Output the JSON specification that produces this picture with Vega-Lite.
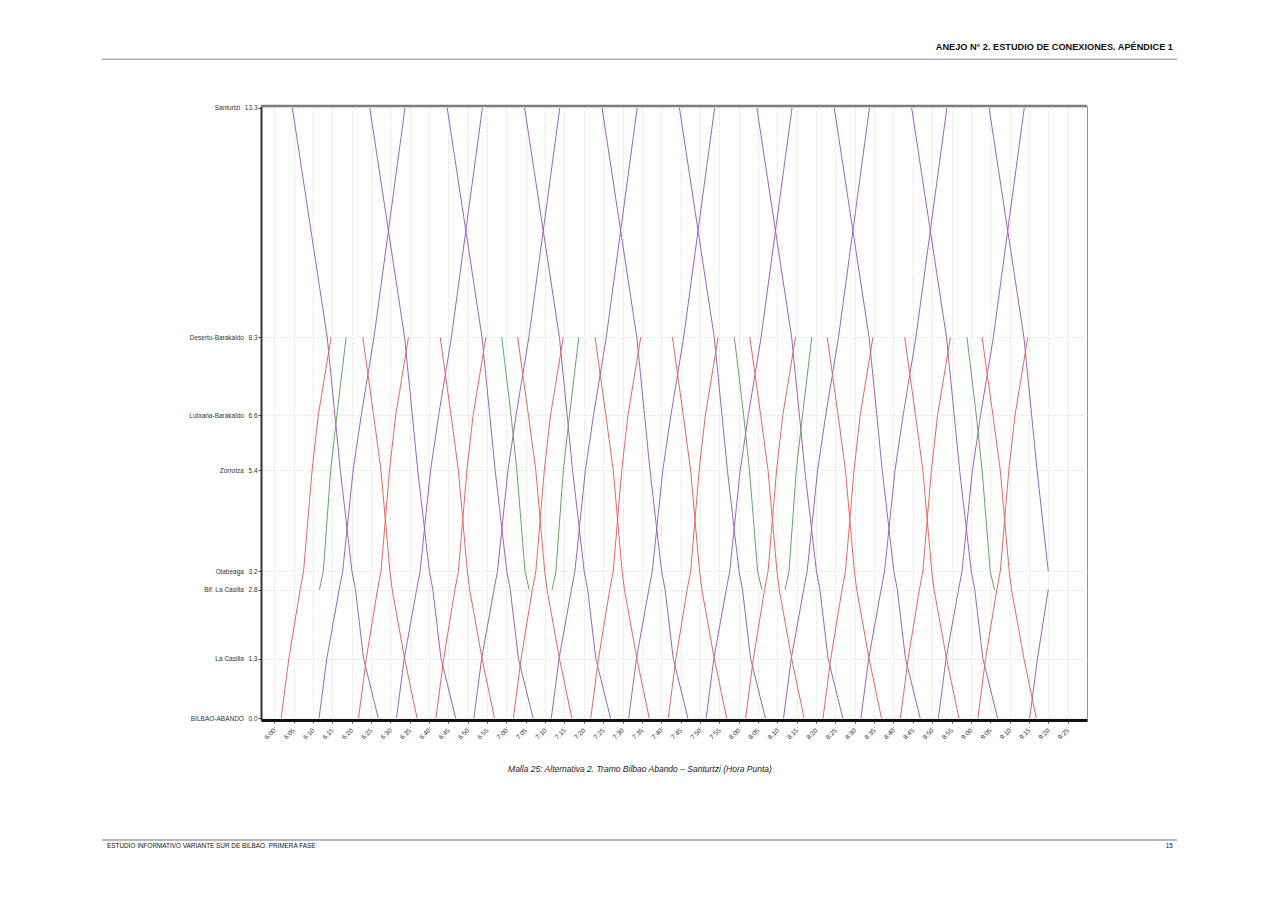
{
  "$schema": "https://vega.github.io/schema/vega-lite/v6.json",
  "autosize": {"type": "none"},
  "padding": {"left": 261, "top": 106, "right": 194, "bottom": 186},
  "width": 826,
  "height": 614,
  "background": "white",
  "config": {"view": {"stroke": "#8f8f8f", "strokeWidth": 1}, "font": "Liberation Sans", "axis": {"labelOverlap": false}},
  "datasets": {
    "trains": [
      {"id":"u0","s":"P","t":11.6,"km":0},{"id":"u0","s":"P","t":13.6,"km":1.3},{"id":"u0","s":"P","t":16.8,"km":2.8},{"id":"u0","s":"P","t":17.7,"km":3.2},{"id":"u0","s":"P","t":20.4,"km":5.4},{"id":"u0","s":"P","t":22.5,"km":6.6},{"id":"u0","s":"P","t":25.8,"km":8.3},{"id":"u0","s":"P","t":33.8,"km":13.3},
      {"id":"u1","s":"P","t":31.6,"km":0},{"id":"u1","s":"P","t":33.6,"km":1.3},{"id":"u1","s":"P","t":36.8,"km":2.8},{"id":"u1","s":"P","t":37.7,"km":3.2},{"id":"u1","s":"P","t":40.4,"km":5.4},{"id":"u1","s":"P","t":42.5,"km":6.6},{"id":"u1","s":"P","t":45.8,"km":8.3},{"id":"u1","s":"P","t":53.8,"km":13.3},
      {"id":"u2","s":"P","t":51.6,"km":0},{"id":"u2","s":"P","t":53.6,"km":1.3},{"id":"u2","s":"P","t":56.8,"km":2.8},{"id":"u2","s":"P","t":57.7,"km":3.2},{"id":"u2","s":"P","t":60.4,"km":5.4},{"id":"u2","s":"P","t":62.5,"km":6.6},{"id":"u2","s":"P","t":65.8,"km":8.3},{"id":"u2","s":"P","t":73.8,"km":13.3},
      {"id":"u3","s":"P","t":71.6,"km":0},{"id":"u3","s":"P","t":73.6,"km":1.3},{"id":"u3","s":"P","t":76.8,"km":2.8},{"id":"u3","s":"P","t":77.7,"km":3.2},{"id":"u3","s":"P","t":80.4,"km":5.4},{"id":"u3","s":"P","t":82.5,"km":6.6},{"id":"u3","s":"P","t":85.8,"km":8.3},{"id":"u3","s":"P","t":93.8,"km":13.3},
      {"id":"u4","s":"P","t":91.6,"km":0},{"id":"u4","s":"P","t":93.6,"km":1.3},{"id":"u4","s":"P","t":96.8,"km":2.8},{"id":"u4","s":"P","t":97.7,"km":3.2},{"id":"u4","s":"P","t":100.4,"km":5.4},{"id":"u4","s":"P","t":102.5,"km":6.6},{"id":"u4","s":"P","t":105.8,"km":8.3},{"id":"u4","s":"P","t":113.8,"km":13.3},
      {"id":"u5","s":"P","t":111.6,"km":0},{"id":"u5","s":"P","t":113.6,"km":1.3},{"id":"u5","s":"P","t":116.8,"km":2.8},{"id":"u5","s":"P","t":117.7,"km":3.2},{"id":"u5","s":"P","t":120.4,"km":5.4},{"id":"u5","s":"P","t":122.5,"km":6.6},{"id":"u5","s":"P","t":125.8,"km":8.3},{"id":"u5","s":"P","t":133.8,"km":13.3},
      {"id":"u6","s":"P","t":131.6,"km":0},{"id":"u6","s":"P","t":133.6,"km":1.3},{"id":"u6","s":"P","t":136.8,"km":2.8},{"id":"u6","s":"P","t":137.7,"km":3.2},{"id":"u6","s":"P","t":140.4,"km":5.4},{"id":"u6","s":"P","t":142.5,"km":6.6},{"id":"u6","s":"P","t":145.8,"km":8.3},{"id":"u6","s":"P","t":153.8,"km":13.3},
      {"id":"u7","s":"P","t":151.6,"km":0},{"id":"u7","s":"P","t":153.6,"km":1.3},{"id":"u7","s":"P","t":156.8,"km":2.8},{"id":"u7","s":"P","t":157.7,"km":3.2},{"id":"u7","s":"P","t":160.4,"km":5.4},{"id":"u7","s":"P","t":162.5,"km":6.6},{"id":"u7","s":"P","t":165.8,"km":8.3},{"id":"u7","s":"P","t":173.8,"km":13.3},
      {"id":"u8","s":"P","t":171.6,"km":0},{"id":"u8","s":"P","t":173.6,"km":1.3},{"id":"u8","s":"P","t":176.8,"km":2.8},{"id":"u8","s":"P","t":177.7,"km":3.2},{"id":"u8","s":"P","t":180.4,"km":5.4},{"id":"u8","s":"P","t":182.5,"km":6.6},{"id":"u8","s":"P","t":185.8,"km":8.3},{"id":"u8","s":"P","t":193.8,"km":13.3},
      {"id":"u9","s":"P","t":195.2,"km":0},{"id":"u9","s":"P","t":197.2,"km":1.3},{"id":"u9","s":"P","t":200.0,"km":2.8},
      {"id":"d0","s":"P","t":4.7,"km":13.3},{"id":"d0","s":"P","t":13.7,"km":8.3},{"id":"d0","s":"P","t":15.7,"km":6.6},{"id":"d0","s":"P","t":17.1,"km":5.4},{"id":"d0","s":"P","t":20.1,"km":3.2},{"id":"d0","s":"P","t":21.0,"km":2.8},{"id":"d0","s":"P","t":23.1,"km":1.3},{"id":"d0","s":"P","t":26.9,"km":0},
      {"id":"d1","s":"P","t":24.7,"km":13.3},{"id":"d1","s":"P","t":33.7,"km":8.3},{"id":"d1","s":"P","t":35.7,"km":6.6},{"id":"d1","s":"P","t":37.1,"km":5.4},{"id":"d1","s":"P","t":40.1,"km":3.2},{"id":"d1","s":"P","t":41.0,"km":2.8},{"id":"d1","s":"P","t":43.1,"km":1.3},{"id":"d1","s":"P","t":46.9,"km":0},
      {"id":"d2","s":"P","t":44.7,"km":13.3},{"id":"d2","s":"P","t":53.7,"km":8.3},{"id":"d2","s":"P","t":55.7,"km":6.6},{"id":"d2","s":"P","t":57.1,"km":5.4},{"id":"d2","s":"P","t":60.1,"km":3.2},{"id":"d2","s":"P","t":61.0,"km":2.8},{"id":"d2","s":"P","t":63.1,"km":1.3},{"id":"d2","s":"P","t":66.9,"km":0},
      {"id":"d3","s":"P","t":64.7,"km":13.3},{"id":"d3","s":"P","t":73.7,"km":8.3},{"id":"d3","s":"P","t":75.7,"km":6.6},{"id":"d3","s":"P","t":77.1,"km":5.4},{"id":"d3","s":"P","t":80.1,"km":3.2},{"id":"d3","s":"P","t":81.0,"km":2.8},{"id":"d3","s":"P","t":83.1,"km":1.3},{"id":"d3","s":"P","t":86.9,"km":0},
      {"id":"d4","s":"P","t":84.7,"km":13.3},{"id":"d4","s":"P","t":93.7,"km":8.3},{"id":"d4","s":"P","t":95.7,"km":6.6},{"id":"d4","s":"P","t":97.1,"km":5.4},{"id":"d4","s":"P","t":100.1,"km":3.2},{"id":"d4","s":"P","t":101.0,"km":2.8},{"id":"d4","s":"P","t":103.1,"km":1.3},{"id":"d4","s":"P","t":106.9,"km":0},
      {"id":"d5","s":"P","t":104.7,"km":13.3},{"id":"d5","s":"P","t":113.7,"km":8.3},{"id":"d5","s":"P","t":115.7,"km":6.6},{"id":"d5","s":"P","t":117.1,"km":5.4},{"id":"d5","s":"P","t":120.1,"km":3.2},{"id":"d5","s":"P","t":121.0,"km":2.8},{"id":"d5","s":"P","t":123.1,"km":1.3},{"id":"d5","s":"P","t":126.9,"km":0},
      {"id":"d6","s":"P","t":124.7,"km":13.3},{"id":"d6","s":"P","t":133.7,"km":8.3},{"id":"d6","s":"P","t":135.7,"km":6.6},{"id":"d6","s":"P","t":137.1,"km":5.4},{"id":"d6","s":"P","t":140.1,"km":3.2},{"id":"d6","s":"P","t":141.0,"km":2.8},{"id":"d6","s":"P","t":143.1,"km":1.3},{"id":"d6","s":"P","t":146.9,"km":0},
      {"id":"d7","s":"P","t":144.7,"km":13.3},{"id":"d7","s":"P","t":153.7,"km":8.3},{"id":"d7","s":"P","t":155.7,"km":6.6},{"id":"d7","s":"P","t":157.1,"km":5.4},{"id":"d7","s":"P","t":160.1,"km":3.2},{"id":"d7","s":"P","t":161.0,"km":2.8},{"id":"d7","s":"P","t":163.1,"km":1.3},{"id":"d7","s":"P","t":166.9,"km":0},
      {"id":"d8","s":"P","t":164.7,"km":13.3},{"id":"d8","s":"P","t":173.7,"km":8.3},{"id":"d8","s":"P","t":175.7,"km":6.6},{"id":"d8","s":"P","t":177.1,"km":5.4},{"id":"d8","s":"P","t":180.1,"km":3.2},{"id":"d8","s":"P","t":181.0,"km":2.8},{"id":"d8","s":"P","t":183.1,"km":1.3},{"id":"d8","s":"P","t":186.9,"km":0},
      {"id":"d9","s":"P","t":184.7,"km":13.3},{"id":"d9","s":"P","t":193.7,"km":8.3},{"id":"d9","s":"P","t":195.7,"km":6.6},{"id":"d9","s":"P","t":197.1,"km":5.4},{"id":"d9","s":"P","t":200.0,"km":3.2},
      {"id":"r0","s":"R","t":1.8,"km":0},{"id":"r0","s":"R","t":3.8,"km":1.3},{"id":"r0","s":"R","t":6.7,"km":2.8},{"id":"r0","s":"R","t":7.6,"km":3.2},{"id":"r0","s":"R","t":9.8,"km":5.4},{"id":"r0","s":"R","t":11.4,"km":6.6},{"id":"r0","s":"R","t":14.7,"km":8.3},
      {"id":"r1","s":"R","t":21.8,"km":0},{"id":"r1","s":"R","t":23.8,"km":1.3},{"id":"r1","s":"R","t":26.7,"km":2.8},{"id":"r1","s":"R","t":27.6,"km":3.2},{"id":"r1","s":"R","t":29.8,"km":5.4},{"id":"r1","s":"R","t":31.4,"km":6.6},{"id":"r1","s":"R","t":34.7,"km":8.3},
      {"id":"r2","s":"R","t":41.8,"km":0},{"id":"r2","s":"R","t":43.8,"km":1.3},{"id":"r2","s":"R","t":46.7,"km":2.8},{"id":"r2","s":"R","t":47.6,"km":3.2},{"id":"r2","s":"R","t":49.8,"km":5.4},{"id":"r2","s":"R","t":51.4,"km":6.6},{"id":"r2","s":"R","t":54.7,"km":8.3},
      {"id":"r3","s":"R","t":61.8,"km":0},{"id":"r3","s":"R","t":63.8,"km":1.3},{"id":"r3","s":"R","t":66.7,"km":2.8},{"id":"r3","s":"R","t":67.6,"km":3.2},{"id":"r3","s":"R","t":69.8,"km":5.4},{"id":"r3","s":"R","t":71.4,"km":6.6},{"id":"r3","s":"R","t":74.7,"km":8.3},
      {"id":"r4","s":"R","t":81.8,"km":0},{"id":"r4","s":"R","t":83.8,"km":1.3},{"id":"r4","s":"R","t":86.7,"km":2.8},{"id":"r4","s":"R","t":87.6,"km":3.2},{"id":"r4","s":"R","t":89.8,"km":5.4},{"id":"r4","s":"R","t":91.4,"km":6.6},{"id":"r4","s":"R","t":94.7,"km":8.3},
      {"id":"r5","s":"R","t":101.8,"km":0},{"id":"r5","s":"R","t":103.8,"km":1.3},{"id":"r5","s":"R","t":106.7,"km":2.8},{"id":"r5","s":"R","t":107.6,"km":3.2},{"id":"r5","s":"R","t":109.8,"km":5.4},{"id":"r5","s":"R","t":111.4,"km":6.6},{"id":"r5","s":"R","t":114.7,"km":8.3},
      {"id":"r6","s":"R","t":121.8,"km":0},{"id":"r6","s":"R","t":123.8,"km":1.3},{"id":"r6","s":"R","t":126.7,"km":2.8},{"id":"r6","s":"R","t":127.6,"km":3.2},{"id":"r6","s":"R","t":129.8,"km":5.4},{"id":"r6","s":"R","t":131.4,"km":6.6},{"id":"r6","s":"R","t":134.7,"km":8.3},
      {"id":"r7","s":"R","t":141.8,"km":0},{"id":"r7","s":"R","t":143.8,"km":1.3},{"id":"r7","s":"R","t":146.7,"km":2.8},{"id":"r7","s":"R","t":147.6,"km":3.2},{"id":"r7","s":"R","t":149.8,"km":5.4},{"id":"r7","s":"R","t":151.4,"km":6.6},{"id":"r7","s":"R","t":154.7,"km":8.3},
      {"id":"r8","s":"R","t":161.8,"km":0},{"id":"r8","s":"R","t":163.8,"km":1.3},{"id":"r8","s":"R","t":166.7,"km":2.8},{"id":"r8","s":"R","t":167.6,"km":3.2},{"id":"r8","s":"R","t":169.8,"km":5.4},{"id":"r8","s":"R","t":171.4,"km":6.6},{"id":"r8","s":"R","t":174.7,"km":8.3},
      {"id":"r9","s":"R","t":181.8,"km":0},{"id":"r9","s":"R","t":183.8,"km":1.3},{"id":"r9","s":"R","t":186.7,"km":2.8},{"id":"r9","s":"R","t":187.6,"km":3.2},{"id":"r9","s":"R","t":189.8,"km":5.4},{"id":"r9","s":"R","t":191.4,"km":6.6},{"id":"r9","s":"R","t":194.7,"km":8.3},
      {"id":"q0","s":"R","t":22.9,"km":8.3},{"id":"q0","s":"R","t":25.7,"km":6.6},{"id":"q0","s":"R","t":27.6,"km":5.4},{"id":"q0","s":"R","t":29.9,"km":3.2},{"id":"q0","s":"R","t":30.5,"km":2.8},{"id":"q0","s":"R","t":33.7,"km":1.3},{"id":"q0","s":"R","t":36.9,"km":0},
      {"id":"q1","s":"R","t":42.9,"km":8.3},{"id":"q1","s":"R","t":45.7,"km":6.6},{"id":"q1","s":"R","t":47.6,"km":5.4},{"id":"q1","s":"R","t":49.9,"km":3.2},{"id":"q1","s":"R","t":50.5,"km":2.8},{"id":"q1","s":"R","t":53.7,"km":1.3},{"id":"q1","s":"R","t":56.9,"km":0},
      {"id":"q2","s":"R","t":62.9,"km":8.3},{"id":"q2","s":"R","t":65.7,"km":6.6},{"id":"q2","s":"R","t":67.6,"km":5.4},{"id":"q2","s":"R","t":69.9,"km":3.2},{"id":"q2","s":"R","t":70.5,"km":2.8},{"id":"q2","s":"R","t":73.7,"km":1.3},{"id":"q2","s":"R","t":76.9,"km":0},
      {"id":"q3","s":"R","t":82.9,"km":8.3},{"id":"q3","s":"R","t":85.7,"km":6.6},{"id":"q3","s":"R","t":87.6,"km":5.4},{"id":"q3","s":"R","t":89.9,"km":3.2},{"id":"q3","s":"R","t":90.5,"km":2.8},{"id":"q3","s":"R","t":93.7,"km":1.3},{"id":"q3","s":"R","t":96.9,"km":0},
      {"id":"q4","s":"R","t":102.9,"km":8.3},{"id":"q4","s":"R","t":105.7,"km":6.6},{"id":"q4","s":"R","t":107.6,"km":5.4},{"id":"q4","s":"R","t":109.9,"km":3.2},{"id":"q4","s":"R","t":110.5,"km":2.8},{"id":"q4","s":"R","t":113.7,"km":1.3},{"id":"q4","s":"R","t":116.9,"km":0},
      {"id":"q5","s":"R","t":122.9,"km":8.3},{"id":"q5","s":"R","t":125.7,"km":6.6},{"id":"q5","s":"R","t":127.6,"km":5.4},{"id":"q5","s":"R","t":129.9,"km":3.2},{"id":"q5","s":"R","t":130.5,"km":2.8},{"id":"q5","s":"R","t":133.7,"km":1.3},{"id":"q5","s":"R","t":136.9,"km":0},
      {"id":"q6","s":"R","t":142.9,"km":8.3},{"id":"q6","s":"R","t":145.7,"km":6.6},{"id":"q6","s":"R","t":147.6,"km":5.4},{"id":"q6","s":"R","t":149.9,"km":3.2},{"id":"q6","s":"R","t":150.5,"km":2.8},{"id":"q6","s":"R","t":153.7,"km":1.3},{"id":"q6","s":"R","t":156.9,"km":0},
      {"id":"q7","s":"R","t":162.9,"km":8.3},{"id":"q7","s":"R","t":165.7,"km":6.6},{"id":"q7","s":"R","t":167.6,"km":5.4},{"id":"q7","s":"R","t":169.9,"km":3.2},{"id":"q7","s":"R","t":170.5,"km":2.8},{"id":"q7","s":"R","t":173.7,"km":1.3},{"id":"q7","s":"R","t":176.9,"km":0},
      {"id":"q8","s":"R","t":182.9,"km":8.3},{"id":"q8","s":"R","t":185.7,"km":6.6},{"id":"q8","s":"R","t":187.6,"km":5.4},{"id":"q8","s":"R","t":189.9,"km":3.2},{"id":"q8","s":"R","t":190.5,"km":2.8},{"id":"q8","s":"R","t":193.7,"km":1.3},{"id":"q8","s":"R","t":196.9,"km":0},
      {"id":"g0","s":"G","t":11.7,"km":2.8},{"id":"g0","s":"G","t":12.7,"km":3.2},{"id":"g0","s":"G","t":14.6,"km":5.4},{"id":"g0","s":"G","t":16.2,"km":6.6},{"id":"g0","s":"G","t":18.6,"km":8.3},
      {"id":"g1","s":"G","t":71.8,"km":2.8},{"id":"g1","s":"G","t":72.8,"km":3.2},{"id":"g1","s":"G","t":74.7,"km":5.4},{"id":"g1","s":"G","t":76.3,"km":6.6},{"id":"g1","s":"G","t":78.7,"km":8.3},
      {"id":"g2","s":"G","t":132.0,"km":2.8},{"id":"g2","s":"G","t":133.0,"km":3.2},{"id":"g2","s":"G","t":134.9,"km":5.4},{"id":"g2","s":"G","t":136.5,"km":6.6},{"id":"g2","s":"G","t":138.9,"km":8.3},
      {"id":"h0","s":"G","t":58.8,"km":8.3},{"id":"h0","s":"G","t":61.2,"km":6.6},{"id":"h0","s":"G","t":62.7,"km":5.4},{"id":"h0","s":"G","t":64.8,"km":3.2},{"id":"h0","s":"G","t":65.9,"km":2.8},
      {"id":"h1","s":"G","t":118.9,"km":8.3},{"id":"h1","s":"G","t":121.3,"km":6.6},{"id":"h1","s":"G","t":122.8,"km":5.4},{"id":"h1","s":"G","t":124.9,"km":3.2},{"id":"h1","s":"G","t":126.0,"km":2.8},
      {"id":"h2","s":"G","t":179.0,"km":8.3},{"id":"h2","s":"G","t":181.4,"km":6.6},{"id":"h2","s":"G","t":182.9,"km":5.4},{"id":"h2","s":"G","t":185.0,"km":3.2},{"id":"h2","s":"G","t":186.1,"km":2.8}
    ],
    "page": [
      {"part":"frame","t":-3.4,"t2":210,"km":13.34},
      {"part":"headrule","t":-44.5,"t2":233.3,"km":14.36},
      {"part":"footrule","t":-44.5,"t2":233.3,"km":-2.655},
      {"part":"head","t":232.2,"km":14.615,"label":"ANEJO N° 2. ESTUDIO DE CONEXIONES. APÉNDICE 1"},
      {"part":"foot","t":-43.2,"km":-2.79,"label":"ESTUDIO INFORMATIVO VARIANTE SUR DE BILBAO. PRIMERA FASE"},
      {"part":"pageno","t":232.2,"km":-2.79,"label":"15"},
      {"part":"caption","t":94.5,"km":-1.108,"label":"Malla 25: Alternativa 2. Tramo Bilbao Abando – Santurtzi (Hora Punta)"}
    ]
  },
  "encoding": {
    "x": {"field": "t", "type": "quantitative", "title": null,
      "scale": {"domain": [-3.4, 210], "nice": false, "zero": false},
      "axis": {"values": [0,5,10,15,20,25,30,35,40,45,50,55,60,65,70,75,80,85,90,95,100,105,110,115,120,125,130,135,140,145,150,155,160,165,170,175,180,185,190,195,200,205],
        "labelExpr": "floor(6 + datum.value/60) + ':' + (datum.value % 60 < 10 ? '0' : '') + (datum.value % 60)",
        "labelAngle": -45, "labelAlign": "right", "labelBaseline": "middle", "labelFontSize": 6.5, "labelColor": "#333",
        "labelOverlap": false, "labelBound": false, "labelPadding": 6, "tickSize": 3, "tickColor": "#444",
        "domainColor": "#111", "domainWidth": 3, "grid": true, "gridColor": "#e2e2e2", "gridDash": [2, 2]}},
    "y": {"field": "km", "type": "quantitative", "title": null,
      "scale": {"domain": [-0.04, 13.34], "nice": false, "zero": false},
      "axis": {"values": [0, 1.3, 2.8, 3.2, 5.4, 6.6, 8.3, 13.3],
        "labelExpr": "datum.value == 0 ? 'BILBAO-ABANDO\u2002\u20090.0' : datum.value == 1.3 ? 'La Casilla\u2002\u20091.3' : datum.value == 2.8 ? 'Bif. La Casilla\u2002\u20092.8' : datum.value == 3.2 ? 'Olabeaga\u2002\u20093.2' : datum.value == 5.4 ? 'Zorrotza\u2002\u20095.4' : datum.value == 6.6 ? 'Lutxana-Barakaldo\u2002\u20096.6' : datum.value == 8.3 ? 'Desertu-Barakaldo\u2002\u20098.3' : 'Santurtzi\u2002\u200913.3'",
        "labelFontSize": 6.5, "labelColor": "#333", "labelPadding": 1, "labelOverlap": false,
        "tickSize": 3, "tickColor": "#444", "domainColor": "#333", "domainWidth": 2,
        "grid": true, "gridColor": "#e2e2e2", "gridDash": [2, 2]}}
  },
  "layer": [
    {
      "data": {"name": "trains"},
      "mark": {"type": "line", "strokeWidth": 1, "interpolate": "linear"},
      "encoding": {
        "color": {"field": "s", "type": "nominal", "legend": null,
          "scale": {"domain": ["P", "R", "G"], "range": ["#9d63c4", "#ef6462", "#62a862"]}},
        "detail": {"field": "id", "type": "nominal"}
      }
    },
    {
      "data": {"name": "page"},
      "transform": [{"filter": "datum.part == 'frame'"}],
      "mark": {"type": "rule", "color": "#7d7d7d", "strokeWidth": 2.5},
      "encoding": {"x2": {"field": "t2"}}
    },
    {
      "data": {"name": "page"},
      "transform": [{"filter": "datum.part == 'headrule'"}],
      "mark": {"type": "rule", "color": "#8a8a8a", "strokeWidth": 1},
      "encoding": {"x2": {"field": "t2"}}
    },
    {
      "data": {"name": "page"},
      "transform": [{"filter": "datum.part == 'footrule'"}],
      "mark": {"type": "rule", "color": "#a0a0a0", "strokeWidth": 1.5},
      "encoding": {"x2": {"field": "t2"}}
    },
    {
      "data": {"name": "page"},
      "transform": [{"filter": "datum.part == 'head'"}],
      "mark": {"type": "text", "align": "right", "baseline": "middle", "fontSize": 9.2, "fontWeight": "bold", "color": "#111"},
      "encoding": {"text": {"field": "label"}}
    },
    {
      "data": {"name": "page"},
      "transform": [{"filter": "datum.part == 'foot'"}],
      "mark": {"type": "text", "align": "left", "baseline": "middle", "fontSize": 6.4, "color": "#111"},
      "encoding": {"text": {"field": "label"}}
    },
    {
      "data": {"name": "page"},
      "transform": [{"filter": "datum.part == 'pageno'"}],
      "mark": {"type": "text", "align": "right", "baseline": "middle", "fontSize": 6.4, "color": "#111"},
      "encoding": {"text": {"field": "label"}}
    },
    {
      "data": {"name": "page"},
      "transform": [{"filter": "datum.part == 'caption'"}],
      "mark": {"type": "text", "align": "center", "baseline": "middle", "fontSize": 8.5, "fontStyle": "italic", "color": "#222"},
      "encoding": {"text": {"field": "label"}}
    }
  ]
}
